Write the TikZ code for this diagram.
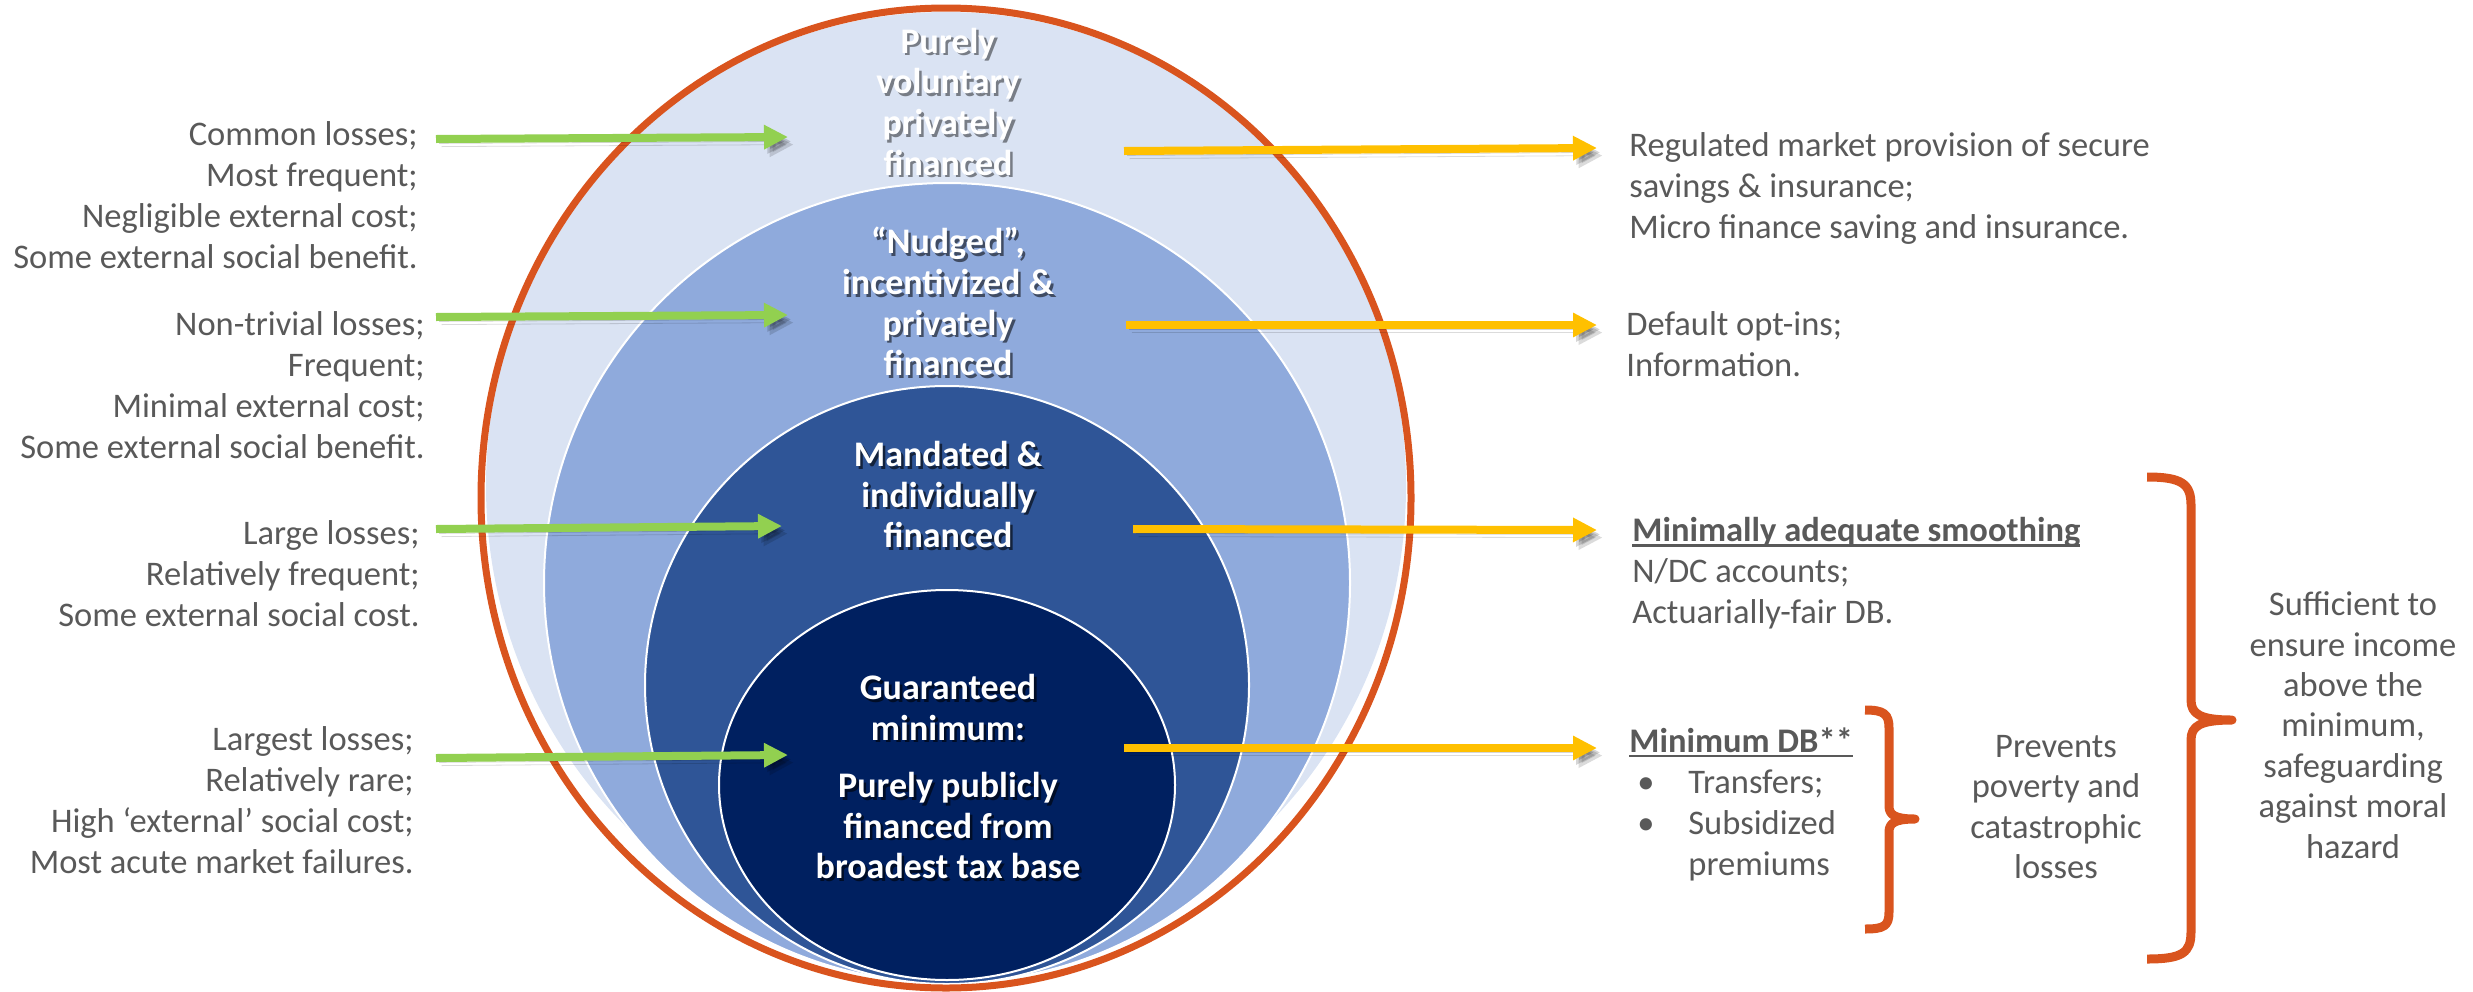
\documentclass[tikz,border=0pt]{standalone}
\usepackage{fontspec}
\setmainfont{Carlito}
\usetikzlibrary{arrows.meta}

\definecolor{ringorange}{RGB}{217,84,30}
\definecolor{volfill}{HTML}{DAE3F3}
\definecolor{nudgefill}{HTML}{8FAADC}
\definecolor{mandfill}{HTML}{2F5597}
\definecolor{guarfill}{HTML}{002060}
\definecolor{arrowgreen}{HTML}{92D050}
\definecolor{arrowgold}{HTML}{FFC000}
\definecolor{bodygray}{HTML}{595959}
\colorlet{volshadow}{volfill!55!black}
\colorlet{nudgeshadow}{nudgefill!45!black}
\colorlet{mandshadow}{mandfill!40!black}
\colorlet{guarshadow}{guarfill!40!black}

% white label with a small offset drop shadow behind it
\newcommand{\shd}[2]{\makebox[0pt][l]{\hspace{1.3pt}\raisebox{-1.3pt}{\textcolor{#1}{#2}}}#2}
% bold heading with a heavier underline
\newcommand{\headline}[1]{\sbox0{\textbf{#1}}\makebox[0pt][l]{\rule[-2.6pt]{\wd0}{1.2pt}}\usebox0}

\tikzset{
  lefttext/.style={anchor=east, align=right, inner sep=0pt, text=bodygray,
    font=\fontsize{17.25}{20.5}\selectfont},
  righttext/.style={anchor=west, align=left, inner sep=0pt, text=bodygray,
    font=\fontsize{17.25}{20.5}\selectfont},
  midtext/.style={align=center, inner sep=0pt, text=bodygray,
    font=\fontsize{17.25}{20.2}\selectfont},
  ringtext/.style={align=center, inner sep=0pt, text=white,
    font=\bfseries\fontsize{18}{20.3}\selectfont},
  ringline/.style={draw=white, line width=1pt},
  arrowshadow/.style={preaction={draw=black, opacity=0.14,
      transform canvas={xshift=2.8pt,yshift=-3.8pt}},
    preaction={draw=black, opacity=0.16,
      transform canvas={xshift=1.6pt,yshift=-2.2pt}}},
  greenarrow/.style={arrowshadow, draw=arrowgreen, line width=4pt,
    -{Triangle[length=12pt,width=11.5pt]}},
  goldarrow/.style={arrowshadow, draw=arrowgold, line width=4pt,
    -{Triangle[length=12pt,width=11.5pt]}},
  bracket/.style={draw=ringorange, line width=4.5pt, line join=round}
}

\begin{document}
\begin{tikzpicture}[x=0.5pt, y=-0.5pt]
\useasboundingbox (0,0) rectangle (2473,991);

% nested rings
\fill[volfill] (946,486) ellipse [x radius=230pt, y radius=237pt];
\filldraw[ringline, fill=nudgefill] (947,583) ellipse [x radius=201.5pt, y radius=200pt];
\filldraw[ringline, fill=mandfill] (947,685) ellipse [x radius=151pt, y radius=149.5pt];
\filldraw[ringline, fill=guarfill] (947,785) ellipse [x radius=114pt, y radius=97.5pt];
\draw[ringorange, line width=3.5pt] (946,498) ellipse [x radius=232.5pt, y radius=245pt];

% ring labels
\node[ringtext] (vol) at (948,103)
  {\shd{volshadow}{Purely}\\\shd{volshadow}{voluntary}\\\shd{volshadow}{privately}\\\shd{volshadow}{financed}};
\node[ringtext] (nudge) at (948,303)
  {\shd{nudgeshadow}{“Nudged”,}\\\shd{nudgeshadow}{incentivized \&}\\\shd{nudgeshadow}{privately}\\\shd{nudgeshadow}{financed}};
\node[ringtext] (mand) at (948,496)
  {\shd{mandshadow}{Mandated \&}\\\shd{mandshadow}{individually}\\\shd{mandshadow}{financed}};
\node[ringtext] (guar) at (948,778)
  {\shd{guarshadow}{Guaranteed}\\\shd{guarshadow}{minimum:}\\[8.5pt]\shd{guarshadow}{Purely publicly}\\\shd{guarshadow}{financed from}\\\shd{guarshadow}{broadest tax base}};

% risk characteristics
\node[lefttext] (risk1) at (418,195)
  {Common losses;\\Most frequent;\\Negligible external cost;\\Some external social benefit.};
\node[lefttext] (risk2) at (425,385)
  {Non-trivial losses;\\Frequent;\\Minimal external cost;\\Some external social benefit.};
\node[lefttext] (risk3) at (420,574)
  {Large losses;\\Relatively frequent;\\Some external social cost.};
\node[lefttext] (risk4) at (414,800)
  {Largest losses;\\Relatively rare;\\High ‘external’ social cost;\\Most acute market failures.};

% instruments
\node[righttext] (inst1) at (1629,188)
  {Regulated market provision of secure\\savings \& insurance;\\Micro finance saving and insurance.};
\node[righttext] (inst2) at (1626,344)
  {Default opt-ins;\\Information.};
\node[righttext] (inst3) at (1632,573)
  {\headline{Minimally adequate smoothing}\\N/DC accounts;\\Actuarially-fair DB.};
\node[righttext] (inst4) at (1629,804)
  {\headline{Minimum DB**}\\
   \hspace*{4pt}\makebox[25.5pt][l]{•}Transfers;\\
   \hspace*{4pt}\makebox[25.5pt][l]{•}Subsidized\\
   \hspace*{29.5pt}premiums};

\node[midtext] (prevent) at (2056,807)
  {Prevents\\poverty and\\catastrophic\\losses};
\node[midtext] (suffice) at (2353,725)
  {Sufficient to\\ensure income\\above the\\minimum,\\safeguarding\\against moral\\hazard};

% arrow end points
\coordinate (gs1) at (436,139); \coordinate (ge1) at (788,137);
\coordinate (gs2) at (436,317); \coordinate (ge2) at (788,315);
\coordinate (gs3) at (436,529); \coordinate (ge3) at (782,526);
\coordinate (gs4) at (436,758); \coordinate (ge4) at (788,755);
\coordinate (ys1) at (1124,151); \coordinate (ye1) at (1597,148);
\coordinate (ys2) at (1126,325); \coordinate (ye2) at (1597,325);
\coordinate (ys3) at (1133,529); \coordinate (ye3) at (1597,530);
\coordinate (ys4) at (1124,748); \coordinate (ye4) at (1597,748);

\draw[greenarrow] (gs1) -- (ge1);
\draw[greenarrow] (gs2) -- (ge2);
\draw[greenarrow] (gs3) -- (ge3);
\draw[greenarrow] (gs4) -- (ge4);
\draw[goldarrow] (ys1) -- (ye1);
\draw[goldarrow] (ys2) -- (ye2);
\draw[goldarrow] (ys3) -- (ye3);
\draw[goldarrow] (ys4) -- (ye4);

% braces
\draw[bracket] (1865,710) .. controls (1884,710) and (1889,714) .. (1889,728)
  -- (1889,806) .. controls (1889,815) and (1895,819) .. (1915,819)
  .. controls (1895,819) and (1889,823) .. (1889,832)
  -- (1889,912) .. controls (1889,926) and (1884,929) .. (1865,929);
\draw[bracket] (2147,477) .. controls (2182,477) and (2191,484) .. (2191,505)
  -- (2191,700) .. controls (2191,714) and (2200,720) .. (2232,720)
  .. controls (2200,720) and (2191,726) .. (2191,740)
  -- (2191,932) .. controls (2191,953) and (2182,959) .. (2147,959);
\end{tikzpicture}
\end{document}
